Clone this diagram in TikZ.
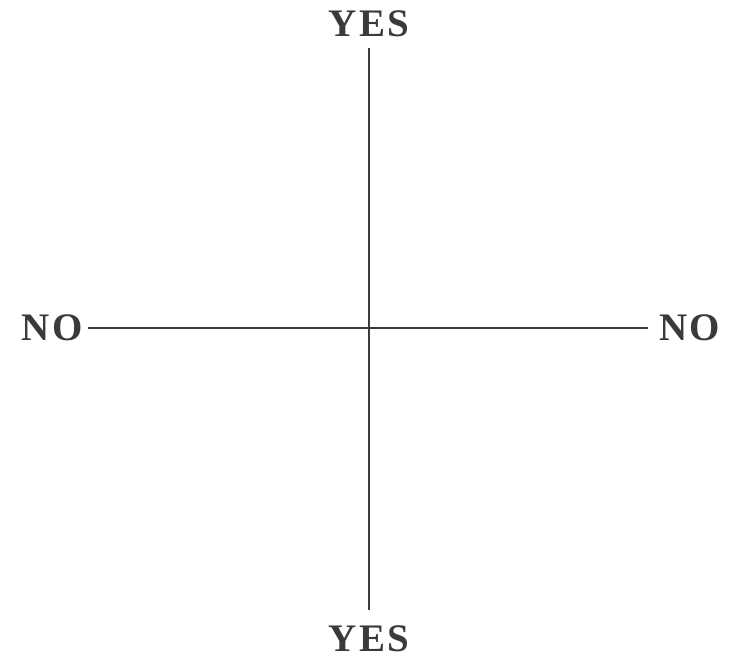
\documentclass[tikz,border=0pt]{standalone}
\usepackage{fontspec}
\setmainfont{Liberation Serif}
\usepackage{xcolor}
\definecolor{axisgray}{HTML}{3A3A3A}
\usetikzlibrary{positioning}

\begin{document}
\begin{tikzpicture}[x=1pt, y=-1pt]
\tikzstyle{lbl}=[inner sep=0pt, text=axisgray, font=\fontsize{39}{44}\selectfont\bfseries\addfontfeature{LetterSpace=6}]
\tikzstyle{axis}=[draw=axisgray, line width=1.8pt]
\useasboundingbox (0,0) rectangle (733,664);
% labels
\node[lbl, anchor=south] (yestop) at (369,37) {YES};
\node[lbl, anchor=north] (yesbot) at (369,625) {YES};
\node[lbl, anchor=east] (noleft) at (83,328) {NO};
\node[lbl, anchor=west] (noright) at (659,328) {NO};
% axes
\draw[axis, shorten <=11pt, shorten >=15pt] (yestop) -- (yesbot);
\draw[axis, shorten <=5pt, shorten >=11pt] (noleft) -- (noright);
\end{tikzpicture}
\end{document}
